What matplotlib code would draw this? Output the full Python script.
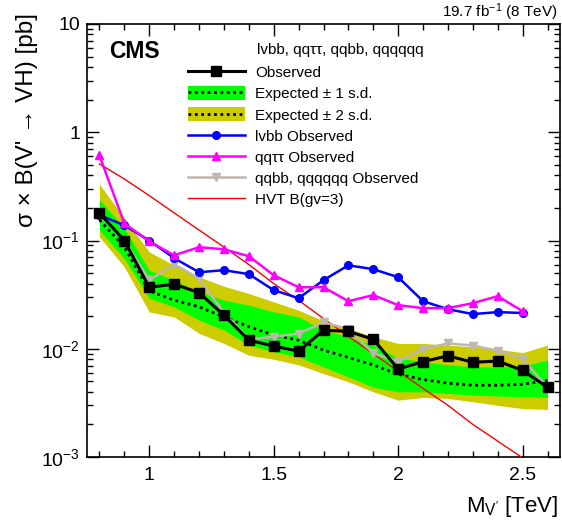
import matplotlib
matplotlib.use('Agg')
import matplotlib.pyplot as plt
from matplotlib.lines import Line2D
from matplotlib.patches import Patch
from matplotlib.ticker import FixedLocator, MultipleLocator, NullFormatter

plt.rcParams['font.family'] = ['Liberation Sans', 'DejaVu Sans']
plt.rcParams['mathtext.default'] = 'regular'

# resonance masses [TeV]
mass = [0.8, 0.9, 1.0, 1.1, 1.2, 1.3, 1.4, 1.5, 1.6, 1.7, 1.8, 1.9,
        2.0, 2.1, 2.2, 2.3, 2.4, 2.5, 2.6]

# combined limits [pb]
observed = [0.179, 0.100, 0.037, 0.0395, 0.033, 0.0204, 0.0120, 0.0106, 0.0095,
            0.0148, 0.0145, 0.0122, 0.0065, 0.0076, 0.0086, 0.0075, 0.0077,
            0.0063, 0.0044]
exp_median = [0.155, 0.087, 0.0343, 0.0281, 0.0244, 0.0197, 0.0160, 0.0134, 0.0120,
              0.0097, 0.0083, 0.0071, 0.0058, 0.0052, 0.0048, 0.0046, 0.0046,
              0.0047, 0.0051]
exp_1up = [0.239, 0.130, 0.053, 0.043, 0.0336, 0.0281, 0.0253, 0.0219, 0.0197,
           0.0149, 0.0129, 0.0108, 0.0082, 0.0076, 0.0071, 0.0068, 0.0068,
           0.0069, 0.0079]
exp_1dn = [0.124, 0.068, 0.0293, 0.0244, 0.0184, 0.0149, 0.0108, 0.0094, 0.0084,
           0.0068, 0.0055, 0.0044, 0.0040, 0.0040, 0.00386, 0.00373, 0.00366,
           0.0036, 0.00355]
exp_2up = [0.331, 0.160, 0.0785, 0.059, 0.0461, 0.0378, 0.0324, 0.0271, 0.0227,
           0.0181, 0.0154, 0.0129, 0.0112, 0.0112, 0.0108, 0.0104, 0.0099,
           0.0092, 0.0108]
exp_2dn = [0.108, 0.057, 0.0219, 0.0197, 0.0139, 0.0112, 0.0087, 0.0080, 0.0071,
           0.0059, 0.00495, 0.0040, 0.00335, 0.00355, 0.00347, 0.00324, 0.0030,
           0.0028, 0.00275]

# single channel observed limits (up to 2.5 TeV for lvbb and qqtautau)
mass_short = mass[:-1]
lvbb_obs = [0.172, 0.138, 0.100, 0.0687, 0.0509, 0.0532, 0.0489, 0.0348, 0.0293,
            0.043, 0.059, 0.0543, 0.0458, 0.0275, 0.0232, 0.0209, 0.0218, 0.0214]
qqtautau_obs = [0.61, 0.144, 0.098, 0.073, 0.0867, 0.083, 0.0716, 0.0478, 0.037,
                0.037, 0.0275, 0.0313, 0.0253, 0.0237, 0.0237, 0.0264, 0.0306, 0.0222]
qqbb_obs = [0.175, 0.100, 0.043, 0.0604, 0.0446, 0.0215, 0.0122, 0.0129, 0.0138,
            0.0175, 0.0152, 0.0091, 0.0076, 0.0100, 0.0112, 0.0107, 0.0096,
            0.0081, 0.0044]
# HVT model B, gv=3
hvt_xsec = [0.51, 0.37, 0.26, 0.18, 0.125, 0.087, 0.060, 0.040, 0.028, 0.019,
            0.013, 0.0090, 0.0062, 0.0043, 0.0030, 0.0020, 0.0014, 0.00098, 0.00068]

ytick_vals = [1e-3, 1e-2, 1e-1, 1, 10]
ytick_labels = ['10$^{-3}$', '10$^{-2}$', '10$^{-1}$', '1', '10']
xtick_vals = [1.0, 1.5, 2.0, 2.5]
xtick_labels = ['1', '1.5', '2', '2.5']

YELLOW = '#CCCC00'
GREEN = '#00FF00'
GRAY = '#BDB7B0'
DOTS = (0, (1.0, 1.3))

fig = plt.figure(figsize=(5.62, 5.23), dpi=100)
ax = fig.add_axes([87 / 562, 66 / 523, 473 / 562, 433 / 523])

ax.fill_between(mass, exp_2dn, exp_2up, color=YELLOW, lw=0, zorder=1)
ax.fill_between(mass, exp_1dn, exp_1up, color=GREEN, lw=0, zorder=2)
ax.plot(mass, exp_median, color='black', lw=2.0, ls=DOTS, zorder=3)
ax.plot(mass, hvt_xsec, color='red', lw=1.0, zorder=4)
ax.plot(mass, qqbb_obs, color=GRAY, lw=1.8, marker='v', ms=6, zorder=5)
ax.plot(mass_short, lvbb_obs, color='blue', lw=1.8, marker='o', ms=5.5, zorder=6)
ax.plot(mass_short, qqtautau_obs, color='magenta', lw=1.8, marker='^', ms=6, zorder=7)
ax.plot(mass, observed, color='black', lw=2.2, marker='s', ms=6.5, zorder=8)

ax.set_yscale('log')
ax.set_xlim(0.75, 2.65)
ax.set_ylim(1e-3, 10)

ax.yaxis.set_major_locator(FixedLocator(ytick_vals))
ax.set_yticklabels(ytick_labels)
ax.xaxis.set_major_locator(FixedLocator(xtick_vals))
ax.set_xticklabels(xtick_labels)
ax.xaxis.set_minor_locator(MultipleLocator(0.1))
ax.yaxis.set_minor_locator(matplotlib.ticker.LogLocator(base=10, subs=range(2, 10)))
ax.yaxis.set_minor_formatter(NullFormatter())

ax.tick_params(which='both', direction='in', top=True, right=True, width=1.0)
ax.tick_params(which='major', length=8.6, labelsize=14)
ax.tick_params(which='minor', length=4.3)
ax.tick_params(axis='x', which='major', pad=7)
ax.tick_params(axis='y', which='major', pad=5)
for sp in ax.spines.values():
    sp.set_linewidth(1.2)

# legend (header drawn as separate text)
h_obs = Line2D([], [], color='black', lw=2.2, marker='s', ms=6.5)
h_exp = Line2D([], [], color='black', lw=2.0, ls=DOTS)
h_1s = (Patch(color=GREEN, lw=0), h_exp)
h_2s = (Patch(color=YELLOW, lw=0), h_exp)
h_lvbb = Line2D([], [], color='blue', lw=1.8, marker='o', ms=5.5)
h_tau = Line2D([], [], color='magenta', lw=1.8, marker='^', ms=6)
h_qqbb = Line2D([], [], color=GRAY, lw=1.8, marker='v', ms=6)
h_hvt = Line2D([], [], color='red', lw=1.0)
handles = [h_obs, h_1s, h_2s, h_lvbb, h_tau, h_qqbb, h_hvt]
labels = ['Observed', 'Expected ± 1 s.d.', 'Expected ± 2 s.d.', 'lvbb Observed',
          'qqττ Observed', 'qqbb, qqqqqq Observed', 'HVT B(gv=3)']
leg = ax.legend(handles, labels, loc='upper left', bbox_to_anchor=(0.2135, 0.905),
                frameon=False, fontsize=11, handlelength=3.7, handleheight=1.0,
                handletextpad=0.7, labelspacing=0.40, borderpad=0, borderaxespad=0)
leg.set_zorder(10)

fig.text(257 / 562, (523 - 54) / 523, 'lvbb, qqττ, qqbb, qqqqqq', fontsize=11,
         ha='left', va='baseline')
fig.text(109 / 562, (523 - 58) / 523, 'CMS', fontsize=16.5,
         fontweight='bold', ha='left', va='baseline')
fig.text(558 / 562, (523 - 17) / 523, '19.7 fb$^{-1}$ (8 TeV)', ha='right',
         va='baseline', fontsize=11)
fig.text(27 / 562, (523 - 13) / 523, "σ × B(V' → VH) [pb]", rotation=90,
         ha='center', va='top', fontsize=17.5)
fig.text(558 / 562, 11 / 523, "M$_{V'}$ [TeV]", ha='right', va='baseline',
         fontsize=16)

fig.savefig('out.png', dpi=100)
